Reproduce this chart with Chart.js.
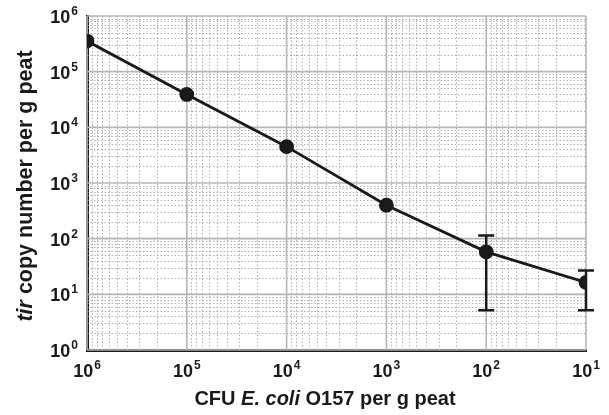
<!DOCTYPE html>
<html>
<head>
<meta charset="utf-8">
<script src="https://cdn.jsdelivr.net/npm/chart.js@4/dist/chart.umd.min.js"></script>
<style>
	html, body { margin: 0; padding: 0; background: #fff; }
</style>
</head>
<body>
<canvas id="chart" width="609" height="415"></canvas>
<script>
// CFU E. coli O157 per g peat (x) vs tir copy number per g peat (y)
const cfu = [1e6, 1e5, 1e4, 1e3, 1e2, 1e1];
const tirCopies = [355000, 39000, 4500, 400, 58, 16.3];
const errLow = [null, null, null, null, 5.2, 5.2];
const errHigh = [null, null, null, null, 114, 26.7];
const xTickExps = [6, 5, 4, 3, 2, 1];
const yTickExps = [0, 1, 2, 3, 4, 5, 6];

const FONT = "'Liberation Sans', Arial, sans-serif";
const INK = "#1a1a1a";

// draws "10" with a raised exponent, anchored by align
const drawPower = (ctx, exp, x, y, align) => {
	ctx.font = `bold 18px ${FONT}`;
	const wBase = ctx.measureText("10").width;
	ctx.font = `bold 12px ${FONT}`;
	const wExp = ctx.measureText(String(exp)).width;
	const total = wBase + wExp + 1;
	let left = x - total / 2;
	if (align === "right") left = x - total;
	ctx.textAlign = "left";
	ctx.textBaseline = "alphabetic";
	ctx.font = `bold 18px ${FONT}`;
	ctx.fillText("10", left, y);
	ctx.font = `bold 12px ${FONT}`;
	ctx.fillText(String(exp), left + wBase + 1, y - 8);
};

// draws a line of mixed plain / italic runs centred on x
const drawRuns = (ctx, runs, x, y, size) => {
	const widths = runs.map(([text, italic]) => {
		ctx.font = `${italic ? "italic " : ""}bold ${size}px ${FONT}`;
		return ctx.measureText(text).width;
	});
	let cur = x - widths.reduce((a, b) => a + b, 0) / 2;
	ctx.textAlign = "left";
	ctx.textBaseline = "alphabetic";
	runs.forEach(([text, italic], i) => {
		ctx.font = `${italic ? "italic " : ""}bold ${size}px ${FONT}`;
		ctx.fillText(text, cur, y);
		cur += widths[i];
	});
};

const logGrid = {
	id: "logGrid",
	beforeDatasetsDraw(chart) {
		const { ctx, chartArea: area, scales: { x, y } } = chart;
		ctx.save();
		// minor dotted lines
		ctx.strokeStyle = "#b0b0b0";
		ctx.lineWidth = 1;
		ctx.setLineDash([1.5, 2]);
		for (let e = 1; e < 6; e++) {
			for (let k = 2; k <= 9; k++) {
				const px = Math.round(x.getPixelForValue(k * Math.pow(10, e))) + 0.5;
				ctx.beginPath();
				ctx.moveTo(px, area.top);
				ctx.lineTo(px, area.bottom);
				ctx.stroke();
			}
		}
		for (let e = 0; e < 6; e++) {
			for (let k = 2; k <= 9; k++) {
				const py = Math.round(y.getPixelForValue(k * Math.pow(10, e))) + 0.5;
				ctx.beginPath();
				ctx.moveTo(area.left, py);
				ctx.lineTo(area.right, py);
				ctx.stroke();
			}
		}
		// major solid lines
		ctx.setLineDash([]);
		ctx.strokeStyle = "#b5b5b5";
		ctx.lineWidth = 1.6;
		xTickExps.forEach(e => {
			const px = x.getPixelForValue(Math.pow(10, e));
			ctx.beginPath();
			ctx.moveTo(px, area.top);
			ctx.lineTo(px, area.bottom);
			ctx.stroke();
		});
		yTickExps.forEach(e => {
			const py = y.getPixelForValue(Math.pow(10, e));
			ctx.beginPath();
			ctx.moveTo(area.left, py);
			ctx.lineTo(area.right, py);
			ctx.stroke();
		});
		// error bars
		ctx.strokeStyle = INK;
		ctx.lineWidth = 2.5;
		cfu.forEach((v, i) => {
			if (errLow[i] == null) return;
			const px = x.getPixelForValue(v);
			const top = y.getPixelForValue(errHigh[i]);
			const bot = y.getPixelForValue(errLow[i]);
			ctx.beginPath();
			ctx.moveTo(px, top);
			ctx.lineTo(px, bot);
			ctx.moveTo(px - 8, top);
			ctx.lineTo(px + 8, top);
			ctx.moveTo(px - 8, bot);
			ctx.lineTo(px + 8, bot);
			ctx.stroke();
		});
		ctx.restore();
	},
	afterDraw(chart) {
		const { ctx, chartArea: area, scales: { x, y } } = chart;
		ctx.save();
		ctx.fillStyle = INK;
		xTickExps.forEach(e => {
			drawPower(ctx, e, x.getPixelForValue(Math.pow(10, e)), area.bottom + 27, "center");
		});
		yTickExps.forEach(e => {
			drawPower(ctx, e, area.left - 9, y.getPixelForValue(Math.pow(10, e)) + 7, "right");
		});
		drawRuns(ctx, [["CFU ", false], ["E. coli", true], [" O157 per g peat", false]], 325, 405, 20);
		ctx.translate(32, 186);
		ctx.rotate(-Math.PI / 2);
		drawRuns(ctx, [["tir", true], [" copy number per g peat", false]], 0, 0, 21.5);
		ctx.restore();
	},
};

new Chart(document.getElementById("chart"), {
	type: "line",
	plugins: [logGrid],
	data: {
		datasets: [
			{
				data: cfu.map((v, i) => ({ x: v, y: tirCopies[i] })),
				borderColor: INK,
				borderWidth: 2.8,
				pointRadius: 6,
				pointBackgroundColor: INK,
				pointBorderColor: INK,
				tension: 0,
			},
		],
	},
	options: {
		responsive: false,
		animation: false,
		devicePixelRatio: 1,
		layout: { padding: { left: 87, right: 23, top: 16, bottom: 65 } },
		plugins: { legend: { display: false }, tooltip: { enabled: false } },
		scales: {
			x: {
				type: "logarithmic",
				reverse: true,
				min: 10,
				max: 1e6,
				ticks: { display: false },
				grid: { display: false },
				border: { color: INK, width: 3 },
				afterFit: scale => { scale.height = 0; },
			},
			y: {
				type: "logarithmic",
				min: 1,
				max: 1e6,
				ticks: { display: false },
				grid: { display: false },
				border: { color: INK, width: 3 },
				afterFit: scale => { scale.width = 0; },
			},
		},
	},
});
</script>
</body>
</html>
